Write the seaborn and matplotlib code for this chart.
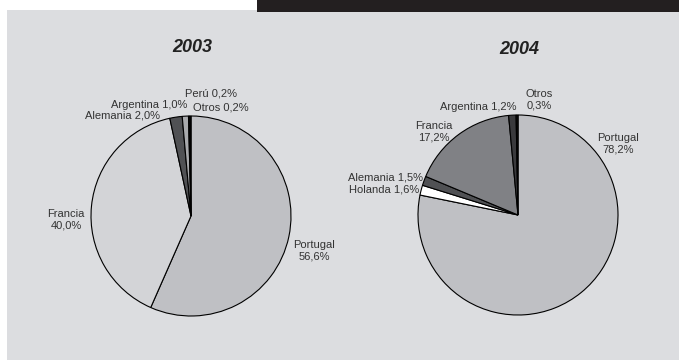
import matplotlib.pyplot as plt
import seaborn as sns
from matplotlib.patches import Rectangle

# data
paises_2003 = ["Portugal", "Francia", "Alemania", "Argentina", "Perú", "Otros"]
valores_2003 = [56.6, 40.0, 2.0, 1.0, 0.2, 0.2]
colores_2003 = ["#bfc0c4", "#d3d4d7", "#505154", "#a9aaad", "#77787b", "#1a1a1a"]

paises_2004 = ["Portugal", "Holanda", "Alemania", "Francia", "Argentina", "Otros"]
valores_2004 = [78.2, 1.6, 1.5, 17.2, 1.2, 0.3]
colores_2004 = ["#bfc0c4", "#ffffff", "#505154", "#808185", "#3a3a3d", "#111111"]

anios = ["2003", "2004"]

# label placement (data units, pie radius = 1): x, y, ha, two lines?
pos_2003 = {
    "Portugal": (1.23, -0.35, "center", True),
    "Francia": (-1.25, -0.04, "center", True),
    "Alemania": (-0.31, 1.00, "right", False),
    "Argentina": (-0.04, 1.11, "right", False),
    "Perú": (-0.06, 1.23, "left", False),
    "Otros": (0.02, 1.09, "left", False),
}
pos_2004 = {
    "Portugal": (1.005, 0.715, "center", True),
    "Francia": (-0.84, 0.835, "center", True),
    "Argentina": (-0.02, 1.08, "right", False),
    "Otros": (0.215, 1.15, "center", True),
    "Alemania": (-0.95, 0.38, "right", False),
    "Holanda": (-0.99, 0.25, "right", False),
}

sns.set_theme(style="white")
plt.rcParams["font.family"] = ["Liberation Sans", "DejaVu Sans"]

W, H = 679, 360
fig = plt.figure(figsize=(W / 100, H / 100), dpi=100)
fig.patch.set_facecolor("white")
fig.patches.append(Rectangle((7 / W, 0), 1, (H - 10) / H, transform=fig.transFigure,
                             facecolor="#dcdde0", edgecolor="none", zorder=-2))
fig.patches.append(Rectangle((257 / W, (H - 12) / H), 1, 12 / H, transform=fig.transFigure,
                             facecolor="#231f20", edgecolor="none", zorder=-1))


def pie_panel(cx, cy, nombres, valores, colores, posiciones):
    r = 140
    ax = fig.add_axes([(cx - r) / W, (H - cy - r) / H, 2 * r / W, 2 * r / H])
    ax.pie(valores, colors=colores, startangle=90, counterclock=False, radius=1,
           wedgeprops={"edgecolor": "black", "linewidth": 0.8})
    ax.set_xlim(-1.4, 1.4)
    ax.set_ylim(-1.4, 1.4)
    ax.set_facecolor("none")
    ax.axis("off")
    for nombre, valor in zip(nombres, valores):
        x, y, ha, dos = posiciones[nombre]
        pct = f"{valor:.1f}%".replace(".", ",")
        txt = f"{nombre}\n{pct}" if dos else f"{nombre} {pct}"
        ax.text(x, y, txt, ha=ha, va="center", fontsize=8, color="#333333",
                linespacing=1.15)
    return ax


pie_panel(191, 216, paises_2003, valores_2003, colores_2003, pos_2003)
pie_panel(518, 215, paises_2004, valores_2004, colores_2004, pos_2004)

fig.text(192 / W, 1 - 47 / H, anios[0], ha="center", va="center", fontsize=13,
         fontweight="bold", fontstyle="italic", color="#222222")
fig.text(519 / W, 1 - 50 / H, anios[1], ha="center", va="center", fontsize=13,
         fontweight="bold", fontstyle="italic", color="#222222")

fig.savefig("out.png", dpi=100)
